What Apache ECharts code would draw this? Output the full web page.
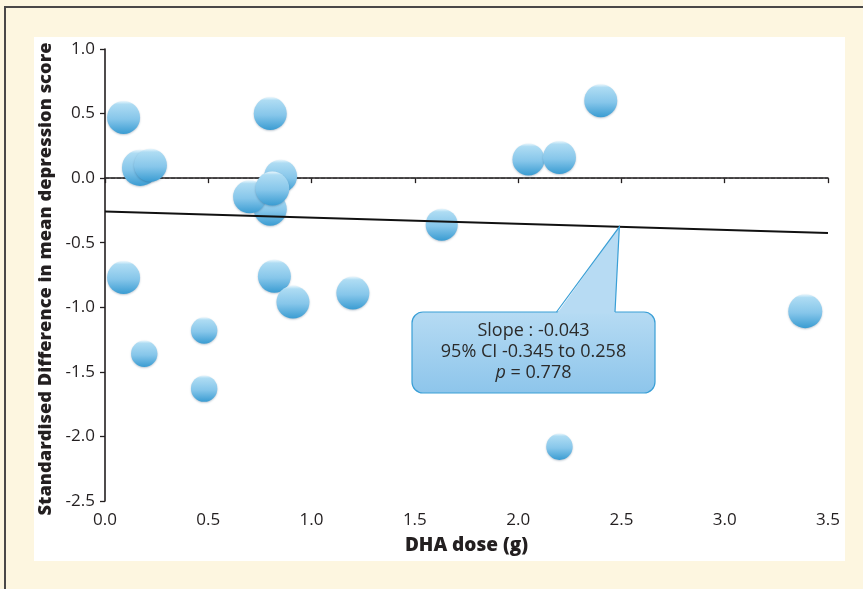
<!DOCTYPE html>
<html>
<head>
<meta charset="utf-8">
<script src="https://cdn.jsdelivr.net/npm/echarts@6/dist/echarts.min.js"></script>
<style>
html,body{margin:0;padding:0;background:#FDF6E0;}
#c{width:863px;height:589px;}
</style>
</head>
<body>
<div id="c"></div>
<script>
// ---- data ----
const doses   = [0.09, 0.17, 0.22, 0.09, 0.19, 0.48, 0.48, 0.80, 0.80, 0.85, 0.70, 0.81, 0.82, 0.91, 1.20, 1.63, 2.05, 2.20, 2.40, 2.20, 3.39];
const diffs   = [0.47, 0.08, 0.10, -0.77, -1.36, -1.18, -1.63, 0.50, -0.24, 0.015, -0.145, -0.08, -0.76, -0.96, -0.89, -0.36, 0.145, 0.16, 0.60, -2.08, -1.03];
const weights = [1.0, 1.1, 1.0, 1.0, 0.8, 0.8, 0.8, 1.0, 1.0, 1.0, 1.0, 1.03, 1.0, 1.0, 1.0, 0.97, 0.97, 1.0, 1.0, 0.8, 1.03];
const regressionX = [0, 3.5];
const regressionY = [-0.258, -0.425];
const referenceY = 0;
const calloutLines = ['Slope : -0.043', '95% CI -0.345 to 0.258', '{i|p} = 0.778'];
const calloutAnchorX = 2.49;
const xTitle = 'DHA dose (g)';
const yTitle = 'Standardised Difference in mean depression score';

const FONT = '"Open Sans", "Noto Sans", sans-serif';
const TXT = '#231F20';

const chart = echarts.init(document.getElementById('c'), null, {renderer: 'canvas'});

const bubbleFill = {
  type: 'linear', x: 0, y: 0, x2: 0, y2: 1,
  colorStops: [
    {offset: 0, color: '#EAF7FD'},
    {offset: 0.1, color: '#AEDCF3'},
    {offset: 0.55, color: '#86C6EA'},
    {offset: 1, color: '#3A9CD2'}
  ]
};

chart.setOption({
  backgroundColor: '#FDF6E0',
  animation: false,
  grid: {left: 105, right: 35, top: 49, bottom: 88, containLabel: false},
  xAxis: {
    type: 'value', min: 0, max: 3.5, interval: 0.5,
    name: xTitle, nameLocation: 'middle', nameGap: 35,
    nameTextStyle: {fontFamily: FONT, fontWeight: 800, fontSize: 19, color: TXT},
    axisLine: {lineStyle: {color: TXT, width: 1.6}},
    axisTick: {show: true, inside: false, length: 5, lineStyle: {color: TXT, width: 1.3}},
    axisLabel: {fontFamily: FONT, fontSize: 17, color: TXT, margin: 11,
      formatter: v => v.toFixed(1)},
    splitLine: {show: false}
  },
  yAxis: {
    type: 'value', min: -2.5, max: 1, interval: 0.5,
    name: yTitle, nameLocation: 'middle', nameGap: 45, nameRotate: 90,
    nameTextStyle: {fontFamily: FONT, fontWeight: 800, fontSize: 18.3, color: TXT, padding: [0, 8, 0, 0]},
    axisLine: {show: true, lineStyle: {color: TXT, width: 1.6}},
    axisTick: {show: true, inside: false, length: 5, lineStyle: {color: TXT, width: 1.3}},
    axisLabel: {fontFamily: FONT, fontSize: 17, color: TXT, margin: 10,
      formatter: v => v.toFixed(1)},
    splitLine: {show: false}
  },
  series: [
    {
      type: 'line', z: 1, silent: true, symbol: 'none',
      data: [[0, referenceY], [3.5, referenceY]],
      lineStyle: {color: '#333', width: 1, type: [4, 2]}
    },
    {
      type: 'scatter', z: 2,
      data: doses.map((d, i) => [d, diffs[i]]),
      symbolSize: (v, p) => 33 * weights[p.dataIndex],
      itemStyle: {color: bubbleFill, opacity: 1,
        shadowBlur: 2, shadowColor: 'rgba(0,40,80,0.25)', shadowOffsetY: 1}
    },
    {
      type: 'line', z: 3, silent: true, symbol: 'none',
      data: regressionX.map((x, i) => [x, regressionY[i]]),
      lineStyle: {color: '#111', width: 2}
    }
  ]
});

// callout anchored on the regression line
const slope = (regressionY[1] - regressionY[0]) / (regressionX[1] - regressionX[0]);
const tip = chart.convertToPixel({gridIndex: 0}, [calloutAnchorX, regressionY[0] + slope * calloutAnchorX]);
const box = {x: 412, y: 312, w: 243, h: 81};
const baseL = 557, baseR = 615;
const boxFill = {type: 'linear', x: 0, y: 0, x2: 0, y2: 1,
  colorStops: [{offset: 0, color: '#B6DBF3'}, {offset: 1, color: '#8DC5EB'}]};
const STROKE = '#3A9FD6';
const cx = box.x + box.w / 2;
const CF = '18px ' + FONT;

chart.setOption({
  graphic: {elements: [
    {type: 'rect', z: -10, silent: true, shape: {x: 34, y: 37, width: 811, height: 524}, style: {fill: '#FFFFFF'}},
    {type: 'line', z: -9, silent: true, shape: {x1: 4, y1: 7, x2: 863, y2: 7}, style: {stroke: '#4A4848', lineWidth: 2}},
    {type: 'line', z: -9, silent: true, shape: {x1: 5, y1: 6, x2: 5, y2: 589}, style: {stroke: '#4A4848', lineWidth: 2}},
    {type: 'rect', z: 100, silent: true, shape: {x: box.x, y: box.y, width: box.w, height: box.h, r: 11},
      style: {fill: boxFill, stroke: STROKE, lineWidth: 1.2}},
    {type: 'polygon', z: 101, silent: true,
      shape: {points: [[baseL, box.y + 1.5], [tip[0], tip[1]], [baseR, box.y + 1.5]]},
      style: {fill: '#B7DBF3'}},
    {type: 'polyline', z: 102, silent: true,
      shape: {points: [[baseL - 0.5, box.y], [tip[0], tip[1]], [baseR, box.y]]},
      style: {stroke: STROKE, lineWidth: 1.2, fill: null}},
    {type: 'text', z: 103, silent: true, x: cx, y: 331,
      style: {text: calloutLines[0], font: CF, fill: '#2b2b2b', align: 'center', verticalAlign: 'middle'}},
    {type: 'text', z: 103, silent: true, x: cx, y: 352,
      style: {text: calloutLines[1], font: CF, fill: '#2b2b2b', align: 'center', verticalAlign: 'middle'}},
    {type: 'text', z: 103, silent: true, x: cx, y: 373,
      style: {text: calloutLines[2], font: CF, fill: '#2b2b2b', align: 'center', verticalAlign: 'middle',
        rich: {i: {fontStyle: 'italic', fontSize: 18, fontFamily: FONT, fill: '#2b2b2b'}}}}
  ]}
});
</script>
</body>
</html>
